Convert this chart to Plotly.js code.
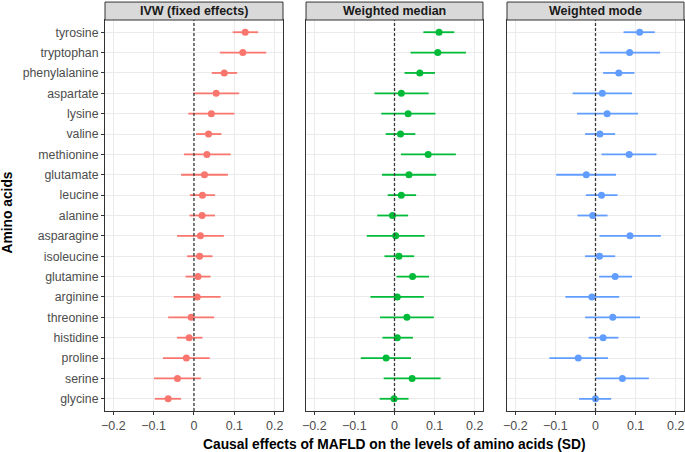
<!DOCTYPE html>
<html>
<head>
<meta charset="utf-8">
<script src="https://cdn.plot.ly/plotly-3.0.1.min.js"></script>
<style>html,body{margin:0;padding:0;background:#fff}#chart{width:685px;height:452px}</style>
</head>
<body>
<div id="chart"></div>
<script>
// categories, top to bottom
const aminoAcids = ["tyrosine","tryptophan","phenylalanine","aspartate","lysine","valine","methionine","glutamate","leucine","alanine","asparagine","isoleucine","glutamine","arginine","threonine","histidine","proline","serine","glycine"];

const panelTitles = ["IVW (fixed effects)", "Weighted median", "Weighted mode"];
const panelColors = ["#F8766D", "#00BA38", "#619CFF"];

// IVW (fixed effects)
const ivwEst  = [0.127,0.121,0.075,0.055,0.043,0.036,0.032,0.026,0.021,0.020,0.016,0.014,0.010,0.008,-0.007,-0.012,-0.019,-0.041,-0.064];
const ivwLow  = [0.096,0.064,0.044,-0.002,-0.014,0.005,-0.025,-0.032,-0.010,-0.011,-0.042,-0.017,-0.021,-0.050,-0.064,-0.042,-0.077,-0.099,-0.097];
const ivwHigh = [0.159,0.179,0.107,0.112,0.100,0.068,0.091,0.084,0.052,0.052,0.074,0.046,0.041,0.066,0.050,0.021,0.039,0.017,-0.032];

// Weighted median
const wmedEst  = [0.111,0.108,0.063,0.017,0.034,0.015,0.084,0.036,0.017,-0.005,0.003,0.011,0.045,0.007,0.031,0.007,-0.021,0.044,-0.001];
const wmedLow  = [0.072,0.040,0.025,-0.050,-0.033,-0.022,0.016,-0.031,-0.017,-0.043,-0.069,-0.025,0.005,-0.060,-0.036,-0.030,-0.084,-0.027,-0.037];
const wmedHigh = [0.149,0.178,0.101,0.085,0.102,0.052,0.153,0.104,0.054,0.034,0.075,0.049,0.086,0.073,0.098,0.046,0.041,0.115,0.035];

// Weighted mode
const wmodeEst  = [0.110,0.085,0.058,0.017,0.029,0.011,0.084,-0.023,0.015,-0.007,0.086,0.010,0.049,-0.009,0.043,0.019,-0.043,0.067,0.000];
const wmodeLow  = [0.070,0.010,0.019,-0.057,-0.046,-0.026,0.015,-0.098,-0.024,-0.045,0.010,-0.026,0.009,-0.075,-0.026,-0.017,-0.115,0.000,-0.041];
const wmodeHigh = [0.148,0.161,0.097,0.091,0.106,0.049,0.152,0.051,0.055,0.030,0.163,0.049,0.091,0.059,0.111,0.057,0.031,0.133,0.039];

const xTickVals = [-0.2,-0.1,0,0.1,0.2];
const xTickText = ["\u22120.2","\u22120.1","0","0.1","0.2"];

const series = [[ivwEst,ivwLow,ivwHigh],[wmedEst,wmedLow,wmedHigh],[wmodeEst,wmodeLow,wmodeHigh]];
const domains = [[0,0.3074],[0.3472,0.6528],[0.6943,1]];
const font = "Liberation Sans, Arial, Helvetica, sans-serif";

const traces = [];
const layout = {
  width: 685, height: 452,
  margin: {l: 105, r: 1, t: 20, b: 41},
  paper_bgcolor: "#fff", plot_bgcolor: "#fff",
  showlegend: false,
  font: {family: font, color: "#4D4D4D", size: 12},
  shapes: [], annotations: []
};

series.forEach((s, i) => {
  const n = i === 0 ? "" : String(i + 1);
  const [est, lo, hi] = s;
  traces.push({
    type: "scatter", mode: "markers",
    x: est, y: aminoAcids,
    xaxis: "x" + n, yaxis: "y" + n,
    marker: {color: panelColors[i], size: 7},
    error_x: {
      type: "data", symmetric: false,
      array: est.map((v, k) => hi[k] - v),
      arrayminus: est.map((v, k) => v - lo[k]),
      color: panelColors[i], thickness: 1.8, width: 0
    },
    hoverinfo: "x+y"
  });
  layout["xaxis" + n] = {
    domain: domains[i], anchor: "y" + n,
    range: [-0.2206, 0.2206],
    tickvals: xTickVals, ticktext: xTickText,
    showgrid: true, gridcolor: "#EBEBEB", gridwidth: 1,
    zeroline: false,
    showline: true, linecolor: "#333333", linewidth: 1, mirror: true,
    ticks: "outside", ticklen: 3, tickcolor: "#333333",
    tickfont: {family: font, size: 12.5, color: "#4D4D4D"}
  };
  layout["yaxis" + n] = {
    anchor: "x" + n,
    type: "category", categoryorder: "array",
    categoryarray: aminoAcids.slice().reverse(),
    range: [-0.6, 18.6],
    showgrid: true, gridcolor: "#EBEBEB", gridwidth: 1,
    zeroline: false,
    showline: true, linecolor: "#333333", linewidth: 1, mirror: true,
    ticks: i === 0 ? "outside" : "", ticklen: 3, tickcolor: "#333333",
    showticklabels: i === 0,
    tickfont: {family: font, size: 12.3, color: "#4D4D4D"}
  };
  if (i > 0) layout["yaxis" + n].matches = "y";
  // dashed reference line at 0
  layout.shapes.push({
    type: "line", xref: "x" + n, yref: "paper",
    x0: 0, x1: 0, y0: 0, y1: 1,
    line: {color: "#3A3A3A", width: 1.3, dash: "3px,2px"}
  });
  // strip background
  layout.shapes.push({
    type: "rect", xref: "paper", yref: "paper",
    x0: domains[i][0], x1: domains[i][1], y0: 1, y1: 1.0459,
    fillcolor: "#D9D9D9", line: {color: "#333333", width: 1}
  });
  layout.annotations.push({
    text: "<b>" + panelTitles[i] + "</b>",
    xref: "paper", yref: "paper",
    x: (domains[i][0] + domains[i][1]) / 2, y: 1.023,
    xanchor: "center", yanchor: "middle", showarrow: false,
    font: {family: font, size: 12.5, color: "#1A1A1A"}
  });
});

layout.annotations.push({
  text: "<b>Causal effects of MAFLD on the levels of amino acids (SD)</b>",
  xref: "paper", yref: "paper", x: 0.5, y: 0, yshift: -33,
  xanchor: "center", yanchor: "middle", showarrow: false,
  font: {family: font, size: 13.8, color: "#000"}
});
layout.annotations.push({
  text: "<b>Amino acids</b>",
  xref: "paper", yref: "paper", x: 0, xshift: -98, y: 0.5, yshift: 3,
  xanchor: "center", yanchor: "middle", showarrow: false, textangle: -90,
  font: {family: font, size: 13.8, color: "#000"}
});

Plotly.newPlot("chart", traces, layout, {displayModeBar: false, staticPlot: true});
</script>
</body>
</html>
